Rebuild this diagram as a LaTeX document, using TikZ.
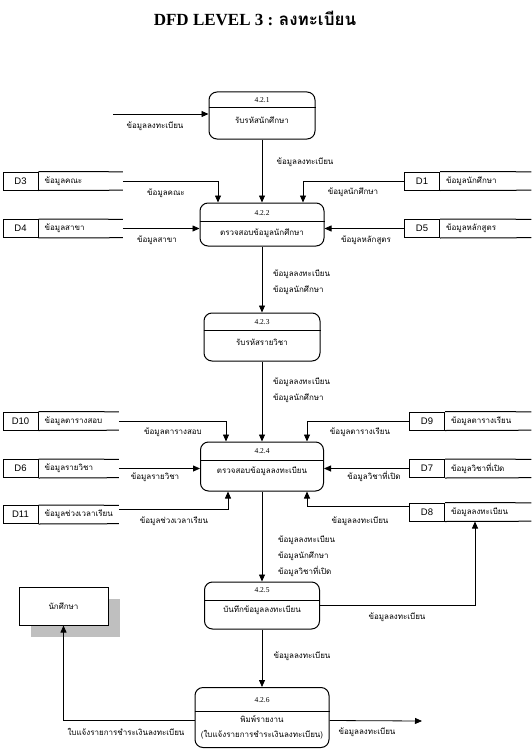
\documentclass[tikz,border=0pt]{standalone}
\usepackage{fontspec}
\setmainfont{Liberation Serif}
\newfontfamily\thaifont[Script=Thai]{Loma}
\newfontfamily\dfont{Liberation Sans}
\usetikzlibrary{arrows.meta,positioning,shadows}

\begin{document}
\begin{tikzpicture}[x=1pt, y=-1pt,
    proc/.style={draw, line width=1pt, rounded corners=8pt, inner sep=0pt},
    num/.style={font=\fontsize{7.5}{8}\selectfont, inner sep=1pt},
    ptext/.style={font=\thaifont\fontsize{8}{15}\selectfont, inner sep=1pt, align=center},
    lbl/.style={font=\thaifont\fontsize{8}{16}\selectfont, inner sep=1pt, align=left},
    dbox/.style={draw, line width=1pt, minimum width=35pt, minimum height=18pt, inner sep=0pt, font=\dfont\fontsize{9.5}{10}\selectfont},
    dname/.style={minimum height=18pt, inner xsep=6pt, inner ysep=0pt, text width=#1, align=left, font=\thaifont\fontsize{8}{9}\selectfont},
    arrow/.style={-{Triangle[length=7pt,width=6pt]}, line width=0.8pt}
]
    \useasboundingbox (0,0) rectangle (531,749);

    % Title
    \node[font=\bfseries\fontsize{17}{19}\selectfont] (title) at (255,18) {DFD LEVEL 3 : {\thaifont ลงทะเบียน}};

    % Processes
    \node[proc, minimum width=106pt, minimum height=47pt] (p421) at (262,115.5) {};
    \draw[line width=1pt] (p421.west |- 0,108) -- (p421.east |- 0,108);
    \node[num] (p421id) at (262,100) {4.2.1};
    \node[ptext] (p421tx) at (262,120) {รับรหัสนักศึกษา};

    \node[proc, minimum width=124pt, minimum height=43pt] (p422) at (262,224.5) {};
    \draw[line width=1pt] (p422.west |- 0,221) -- (p422.east |- 0,221);
    \node[num] (p422id) at (262,213) {4.2.2};
    \node[ptext] (p422tx) at (262,233) {ตรวจสอบข้อมูลนักศึกษา};

    \node[proc, minimum width=116pt, minimum height=48pt] (p423) at (262,337) {};
    \draw[line width=1pt] (p423.west |- 0,330) -- (p423.east |- 0,330);
    \node[num] (p423id) at (262,322) {4.2.3};
    \node[ptext] (p423tx) at (262,342) {รับรหัสรายวิชา};

    \node[proc, minimum width=123pt, minimum height=49pt] (p424) at (262,466.5) {};
    \draw[line width=1pt] (p424.west |- 0,460) -- (p424.east |- 0,460);
    \node[num] (p424id) at (262,451) {4.2.4};
    \node[ptext] (p424tx) at (262,471) {ตรวจสอบข้อมูลลงทะเบียน};

    \node[proc, minimum width=115pt, minimum height=47pt] (p425) at (262,605.5) {};
    \draw[line width=1pt] (p425.west |- 0,600) -- (p425.east |- 0,600);
    \node[num] (p425id) at (262,590) {4.2.5};
    \node[ptext] (p425tx) at (262,610) {บันทึกข้อมูลลงทะเบียน};

    \node[proc, minimum width=134pt, minimum height=60pt] (p426) at (262,717.5) {};
    \draw[line width=1pt] (p426.west |- 0,711) -- (p426.east |- 0,711);
    \node[num] (p426id) at (262,700) {4.2.6};
    \node[ptext] (p426tx) at (262,727) {พิมพ์รายงาน\\(ใบแจ้งรายการชำระเงินลงทะเบียน)};

    % Data stores left
    \node[dbox] (d3) at (20.5,181) {D3};
    \node[dname=72pt, right=0pt of d3] (d3n) {ข้อมูลคณะ};
    \draw[line width=1pt] (d3.north east) -- (d3n.north east) (d3.south east) -- (d3n.south east);
    \node[dbox] (d4) at (20.5,228.5) {D4};
    \node[dname=72pt, right=0pt of d4] (d4n) {ข้อมูลสาขา};
    \draw[line width=1pt] (d4.north east) -- (d4n.north east) (d4.south east) -- (d4n.south east);
    \node[dbox] (d10) at (20.5,421) {D10};
    \node[dname=68pt, right=0pt of d10] (d10n) {ข้อมูลตารางสอบ};
    \draw[line width=1pt] (d10.north east) -- (d10n.north east) (d10.south east) -- (d10n.south east);
    \node[dbox] (d6) at (20.5,468.5) {D6};
    \node[dname=68pt, right=0pt of d6] (d6n) {ข้อมูลรายวิชา};
    \draw[line width=1pt] (d6.north east) -- (d6n.north east) (d6.south east) -- (d6n.south east);
    \node[dbox] (d11) at (20.5,514.5) {D11};
    \node[dname=68pt, right=0pt of d11] (d11n) {ข้อมูลช่วงเวลาเรียน};
    \draw[line width=1pt] (d11.north east) -- (d11n.north east) (d11.south east) -- (d11n.south east);

    % Data stores right
    \node[dbox] (d1) at (422,181) {D1};
    \node[dname=79pt, right=0pt of d1] (d1n) {ข้อมูลนักศึกษา};
    \draw[line width=1pt] (d1.north east) -- (d1n.north east) (d1.south east) -- (d1n.south east);
    \node[dbox] (d5) at (422,228.5) {D5};
    \node[dname=79pt, right=0pt of d5] (d5n) {ข้อมูลหลักสูตร};
    \draw[line width=1pt] (d5.north east) -- (d5n.north east) (d5.south east) -- (d5n.south east);
    \node[dbox] (d9) at (427,421) {D9};
    \node[dname=74pt, right=0pt of d9] (d9n) {ข้อมูลตารางเรียน};
    \draw[line width=1pt] (d9.north east) -- (d9n.north east) (d9.south east) -- (d9n.south east);
    \node[dbox] (d7) at (427,468.5) {D7};
    \node[dname=74pt, right=0pt of d7] (d7n) {ข้อมูลวิชาที่เปิด};
    \draw[line width=1pt] (d7.north east) -- (d7n.north east) (d7.south east) -- (d7n.south east);
    \node[dbox] (d8) at (427,512) {D8};
    \node[dname=74pt, right=0pt of d8] (d8n) {ข้อมูลลงทะเบียน};
    \draw[line width=1pt] (d8.north east) -- (d8n.north east) (d8.south east) -- (d8n.south east);

    % External entity
    \node[draw, line width=1pt, fill=white, minimum width=89pt, minimum height=38pt,
        drop shadow={shadow xshift=12pt, shadow yshift=-12pt, fill=black!25, opacity=1},
        font=\thaifont\fontsize{8}{9}\selectfont] (student) at (63.5,606) {นักศึกษา};

    % Arrows
    \coordinate (in421) at (113,114);
    \draw[arrow] (in421) -- (in421 -| p421.west);
    \draw[arrow] (p421) -- (p422);
    \draw[arrow] (d3n.east) -| ([xshift=-44pt]p422.north);
    \draw[arrow] (d1.west) -| ([xshift=41pt]p422.north);
    \draw[arrow] (d4n.east) -- (d4n.east -| p422.west);
    \draw[arrow] (d5.west) -- (d5.west -| p422.east);
    \draw[arrow] (p422) -- (p423);
    \draw[arrow] (p423) -- (p424);
    \draw[arrow] (d10n.east) -| ([xshift=-36pt]p424.north);
    \draw[arrow] (d9.west) -| ([xshift=45pt]p424.north);
    \draw[arrow] (d6n.east) -- (d6n.east -| p424.west);
    \draw[arrow] (d7.west) -- (d7.west -| p424.east);
    \draw[arrow] ([yshift=5pt]d11n.east) -| ([xshift=-34pt]p424.south);
    \draw[arrow] ([yshift=6pt]d8.west) -| ([xshift=45pt]p424.south);
    \draw[arrow] (p424) -- (p425);
    \draw[arrow] (p425.east) -| ([xshift=30pt]d8.south east);
    \draw[arrow] (p425) -- (p426);
    \draw[arrow] ([yshift=-3pt]p426.west) -| (student.south);
    \coordinate (out426) at (422,721);
    \draw[arrow] ([yshift=-3pt]p426.east) -- (out426);

    % Flow labels
    \node[lbl] (l1) at (155,126) {ข้อมูลลงทะเบียน};
    \node[lbl] (l2) at (305,162) {ข้อมูลลงทะเบียน};
    \node[lbl] (l3) at (166,193) {ข้อมูลคณะ};
    \node[lbl] (l4) at (353,192) {ข้อมูลนักศึกษา};
    \node[lbl] (l5) at (157,240) {ข้อมูลสาขา};
    \node[lbl] (l6) at (366,240) {ข้อมูลหลักสูตร};
    \node[lbl, anchor=west] (l7) at (272,282) {ข้อมูลลงทะเบียน\\ข้อมูลนักศึกษา};
    \node[lbl, anchor=west] (l8) at (272,390) {ข้อมูลลงทะเบียน\\ข้อมูลนักศึกษา};
    \node[lbl] (l9) at (173,432) {ข้อมูลตารางสอบ};
    \node[lbl] (l10) at (360,432) {ข้อมูลตารางเรียน};
    \node[lbl] (l11) at (155,477) {ข้อมูลรายวิชา};
    \node[lbl] (l12) at (374,476) {ข้อมูลวิชาที่เปิด};
    \node[lbl] (l13) at (174,521) {ข้อมูลช่วงเวลาเรียน};
    \node[lbl] (l14) at (360,521) {ข้อมูลลงทะเบียน};
    \node[lbl, anchor=west] (l15) at (277,556) {ข้อมูลลงทะเบียน\\ข้อมูลนักศึกษา\\ข้อมูลวิชาที่เปิด};
    \node[lbl] (l16) at (397,617) {ข้อมูลลงทะเบียน};
    \node[lbl] (l17) at (302,656) {ข้อมูลลงทะเบียน};
    \node[lbl] (l18) at (126,732) {ใบแจ้งรายการชำระเงินลงทะเบียน};
    \node[lbl] (l19) at (367,732) {ข้อมูลลงทะเบียน};
\end{tikzpicture}
\end{document}
